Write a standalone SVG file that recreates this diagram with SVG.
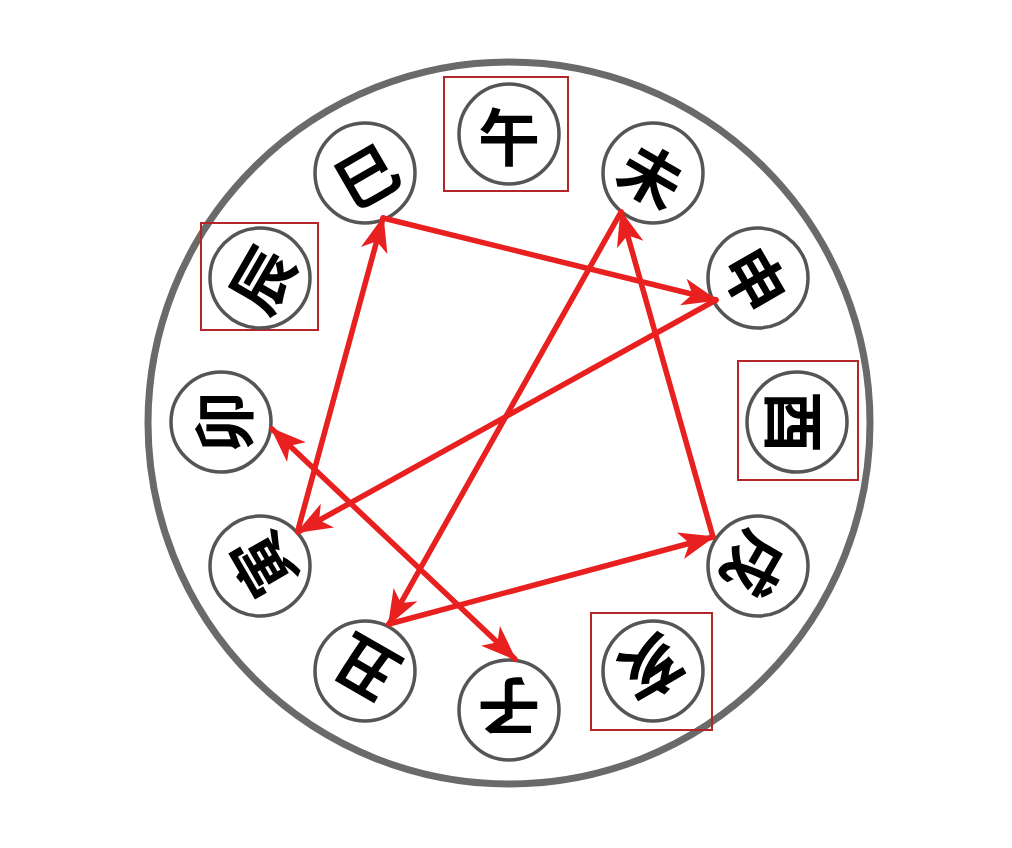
<svg xmlns="http://www.w3.org/2000/svg" width="1012" height="848" viewBox="0 0 1012 848">
<style>
.bg{fill:#ffffff}
.ring{fill:none;stroke:#6a6a6a;stroke-width:7}
.node circle{fill:#ffffff;stroke:#555555;stroke-width:3.5}
.node text{font-family:"Noto Sans CJK SC","Noto Sans CJK TC",sans-serif;font-size:62px;font-weight:bold;fill:#000;text-anchor:middle;dominant-baseline:central}
.box{fill:none;stroke:#b5262b;stroke-width:2}
.link{fill:none;stroke:#e8201f;stroke-width:5.5;stroke-linecap:round}
</style>
<defs>
<marker id="ah" markerUnits="userSpaceOnUse" markerWidth="40" markerHeight="40" viewBox="-34 -17 38 34" refX="0" refY="0" orient="auto-start-reverse">
<path d="M2,0 L-32,-13 L-23,0 L-32,13 Z" fill="#e8201f"/>
</marker>
</defs>
<rect class="bg" x="0" y="0" width="1012" height="848"/>
<circle class="ring" cx="509" cy="423" r="361"/>

<g id="boxes">
<rect class="box" x="444" y="77" width="124" height="114"/>
<rect class="box" x="201" y="223" width="117" height="107"/>
<rect class="box" x="738" y="361" width="120" height="119"/>
<rect class="box" x="591" y="613" width="121" height="117"/>
</g>

<g id="n-wu" class="node"><circle cx="509" cy="134" r="50"/><text x="509" y="134" transform="rotate(0 509 134)">午</text></g>
<g id="n-wei" class="node"><circle cx="653" cy="173" r="50"/><text x="653" y="173" transform="rotate(30 653 173)">未</text></g>
<g id="n-shen" class="node"><circle cx="758" cy="278" r="50"/><text x="758" y="278" transform="rotate(60 758 278)">申</text></g>
<g id="n-you" class="node"><circle cx="797" cy="422" r="50"/><text x="797" y="422" transform="rotate(90 797 422)">酉</text></g>
<g id="n-xu" class="node"><circle cx="758" cy="566" r="50"/><text x="758" y="566" transform="rotate(120 758 566)">戌</text></g>
<g id="n-hai" class="node"><circle cx="653" cy="671" r="50"/><text x="653" y="671" transform="rotate(150 653 671)">亥</text></g>
<g id="n-zi" class="node"><circle cx="509" cy="710" r="50"/><text x="509" y="710" transform="rotate(180 509 710)">子</text></g>
<g id="n-chou" class="node"><circle cx="365" cy="671" r="50"/><text x="365" y="671" transform="rotate(210 365 671)">丑</text></g>
<g id="n-yin" class="node"><circle cx="260" cy="566" r="50"/><text x="260" y="566" transform="rotate(240 260 566)">寅</text></g>
<g id="n-mao" class="node"><circle cx="221" cy="422" r="50"/><text x="221" y="422" transform="rotate(270 221 422)">卯</text></g>
<g id="n-chen" class="node"><circle cx="260" cy="278" r="50"/><text x="260" y="278" transform="rotate(300 260 278)">辰</text></g>
<g id="n-si" class="node"><circle cx="365" cy="173" r="50"/><text x="365" y="173" transform="rotate(330 365 173)">巳</text></g>

<g id="connectors">
<line class="link" x1="298" y1="530" x2="383" y2="218" marker-end="url(#ah)"/>
<line class="link" x1="383" y1="218" x2="716" y2="300" marker-end="url(#ah)"/>
<line class="link" x1="716" y1="300" x2="298" y2="532" marker-end="url(#ah)"/>
<line class="link" x1="713" y1="537" x2="621" y2="212" marker-end="url(#ah)"/>
<line class="link" x1="621" y1="212" x2="389" y2="624" marker-end="url(#ah)"/>
<line class="link" x1="389" y1="624" x2="713" y2="537" marker-end="url(#ah)"/>
<line class="link" x1="272" y1="429" x2="515" y2="659" marker-start="url(#ah)" marker-end="url(#ah)"/>
</g>
</svg>
